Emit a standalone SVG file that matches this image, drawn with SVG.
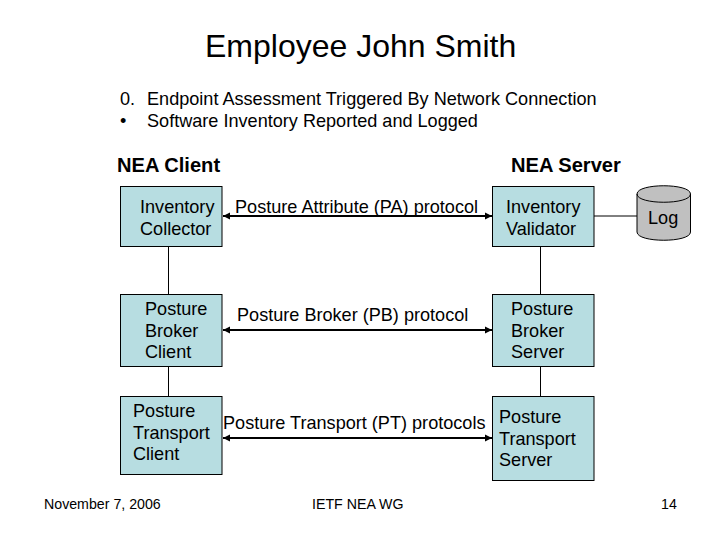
<svg xmlns="http://www.w3.org/2000/svg" width="720" height="540" viewBox="0 0 720 540">
<defs>
<marker id="ah" markerUnits="userSpaceOnUse" markerWidth="8" markerHeight="8" refX="7" refY="4" orient="auto-start-reverse"><path d="M0 0.5L7 4L0 7.5z" fill="#000"/></marker>
</defs>
<style>
text{font-family:"Liberation Sans",Arial,sans-serif;fill:#000;font-size:18.1px}
.box{fill:#b7dde1;stroke:#000;stroke-width:1}
.thin{stroke:#000;stroke-width:1;fill:none}
.arr{stroke:#000;stroke-width:2;fill:none;marker-start:url(#ah);marker-end:url(#ah)}
.h{font-weight:bold;font-size:20.1px}
.foot{font-size:14.2px}
</style>
<rect width="720" height="540" fill="#fff"/>
<text x="205" y="57" style="font-size:32px">Employee John Smith</text>
<text x="120" y="105">0.</text><text x="147" y="105">Endpoint Assessment Triggered By Network Connection</text>
<text x="120" y="127">•</text><text x="147" y="127">Software Inventory Reported and Logged</text>
<text class="h" x="117" y="172">NEA Client</text>
<text class="h" x="511" y="172">NEA Server</text>
<g id="connectors">
<path class="thin" d="M168.500 246.500V294.500M168.500 366V396.500M540.500 246.500V294.500M540.500 366V396.500M594 216H637"/>
<path class="arr" d="M223 216H492"/>
<path class="arr" d="M223 330H492"/>
<path class="arr" d="M223 438H492"/>
</g>
<g id="inventory-collector"><rect class="box" x="120.500" y="186.500" width="101.500" height="60"/><text x="140" y="213">Inventory</text><text x="140" y="235">Collector</text></g>
<g id="posture-broker-client"><rect class="box" x="120.500" y="294.500" width="101.500" height="72"/><text x="145" y="315">Posture</text><text x="145" y="337">Broker</text><text x="145" y="358">Client</text></g>
<g id="posture-transport-client"><rect class="box" x="120.500" y="396.500" width="101.500" height="78"/><text x="133" y="417">Posture</text><text x="133" y="439">Transport</text><text x="133" y="460">Client</text></g>
<g id="inventory-validator"><rect class="box" x="492.500" y="186.500" width="101.500" height="60"/><text x="506" y="213">Inventory</text><text x="506" y="235">Validator</text></g>
<g id="posture-broker-server"><rect class="box" x="492.500" y="294.500" width="101.500" height="72"/><text x="511" y="315">Posture</text><text x="511" y="337">Broker</text><text x="511" y="358">Server</text></g>
<g id="posture-transport-server"><rect class="box" x="492.500" y="396.500" width="101.500" height="84"/><text x="499" y="423">Posture</text><text x="499" y="445">Transport</text><text x="499" y="466">Server</text></g>
<g id="log"><path d="M637 194C637 183 690.500 183 690.500 194V232C690.500 243 637 243 637 232Z" fill="#c0c0c0" stroke="#000"/><path d="M637 194C637 205 690.500 205 690.500 194" fill="none" stroke="#000"/><text x="648" y="224">Log</text></g>
<text x="235" y="213">Posture Attribute (PA) protocol</text>
<text x="237" y="321">Posture Broker (PB) protocol</text>
<text x="223" y="429">Posture Transport (PT) protocols</text>
<text class="foot" x="44" y="509">November 7, 2006</text>
<text class="foot" x="312" y="509">IETF NEA WG</text>
<text class="foot" x="661" y="509">14</text>
</svg>
